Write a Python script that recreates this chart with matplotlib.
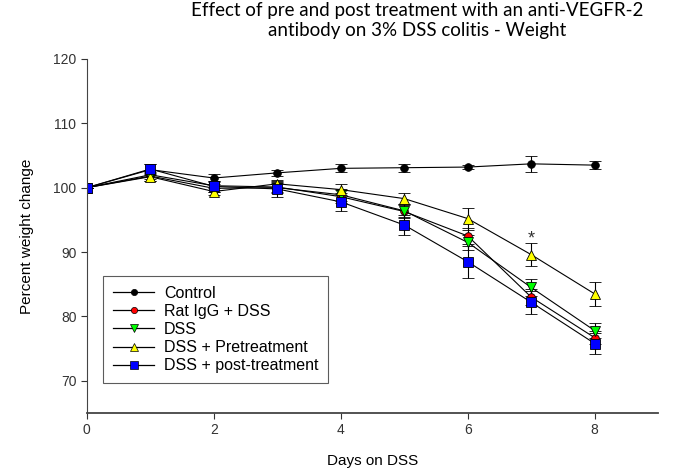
import numpy as np
import matplotlib
matplotlib.use("Agg")
import matplotlib.pyplot as plt
from matplotlib.lines import Line2D

plt.rcParams["font.family"] = ["Liberation Sans", "DejaVu Sans"]

# dati
giorni = [0, 1, 2, 3, 4, 5, 6, 7, 8]

control = [100, 102.8, 101.5, 102.3, 103.0, 103.1, 103.2, 103.7, 103.5]
control_err = [0, 0.8, 0.6, 0.5, 0.6, 0.6, 0.3, 1.2, 0.6]

ratigg = [100, 102.0, 100.3, 100.1, 98.6, 96.3, 92.5, 83.0, 76.7]
ratigg_err = [0, 0.7, 0.7, 0.8, 1.0, 1.0, 1.2, 1.2, 1.0]

dss = [100, 101.8, 99.9, 100.0, 98.9, 96.4, 91.5, 84.5, 77.8]
dss_err = [0, 0.7, 0.6, 0.8, 0.9, 1.0, 1.2, 1.3, 1.2]

pre = [100, 101.7, 99.4, 100.6, 99.7, 98.3, 95.2, 89.6, 83.5]
pre_err = [0, 0.6, 0.6, 0.6, 0.8, 0.8, 1.7, 1.8, 1.8]

post = [100, 102.9, 100.2, 99.8, 97.8, 94.2, 88.5, 82.2, 75.8]
post_err = [0, 0.8, 0.8, 1.2, 1.4, 1.6, 2.5, 1.8, 1.6]

etichette = ["Control", "Rat IgG + DSS", "DSS", "DSS + Pretreatment", "DSS + post-treatment"]
serie = [control, ratigg, dss, pre, post]
errori = [control_err, ratigg_err, dss_err, pre_err, post_err]
colori = ["black", "red", "#00ff00", "yellow", "blue"]
marker = ["o", "o", "v", "^", "s"]
msize = [5.5, 5.5, 6.5, 6.5, 6.5]

fig = plt.figure(figsize=(6.73, 4.71), dpi=100)
ax = fig.add_axes([0.129, 0.123, 0.849, 0.752])

maniglie = []
for i in range(len(serie)):
    ax.errorbar(giorni, serie[i], yerr=errori[i], color="black", lw=0.8,
                marker=marker[i], markersize=msize[i], markerfacecolor=colori[i],
                markeredgecolor="black", markeredgewidth=0.6,
                ecolor="black", elinewidth=0.8, capsize=4, capthick=0.8)
    maniglie.append(Line2D([], [], color="black", lw=0.9, marker=marker[i],
                           markersize=msize[i] - 1, markerfacecolor=colori[i],
                           markeredgecolor="black", markeredgewidth=0.5,
                           label=etichette[i]))

# asterisco al giorno 7
ax.text(7, 92.0, "*", ha="center", va="center", fontsize=13, color="#333333")

ax.set_xlim(0, 9)
ax.set_ylim(65, 120)
ax.set_xticks([0, 2, 4, 6, 8])
ax.set_yticks([70, 80, 90, 100, 110, 120])
ax.spines["top"].set_visible(False)
ax.spines["right"].set_visible(False)
ax.spines["left"].set_color("#444444")
ax.spines["bottom"].set_color("#444444")
ax.spines["bottom"].set_linewidth(1.3)
ax.tick_params(direction="out", length=4, labelsize=10, colors="#333333")

ax.set_xlabel("Days on DSS", fontsize=11, labelpad=12)
ax.set_ylabel("Percent weight change", fontsize=11, labelpad=14)

leg = ax.legend(handles=maniglie, loc="lower left", bbox_to_anchor=(0.029, 0.085),
                fontsize=11.5, frameon=True, fancybox=False, edgecolor="#333333",
                handlelength=2.6, borderpad=0.6, labelspacing=0.2,
                handletextpad=0.6, borderaxespad=0)
leg.get_frame().set_linewidth(0.8)

fig.text(0.62, 0.995, "Effect of pre and post treatment with an anti-VEGFR-2\nantibody on 3% DSS colitis - Weight",
         ha="center", va="top", fontsize=13.5, family="Lato", linespacing=1.2)

fig.savefig("out.png", dpi=100)
